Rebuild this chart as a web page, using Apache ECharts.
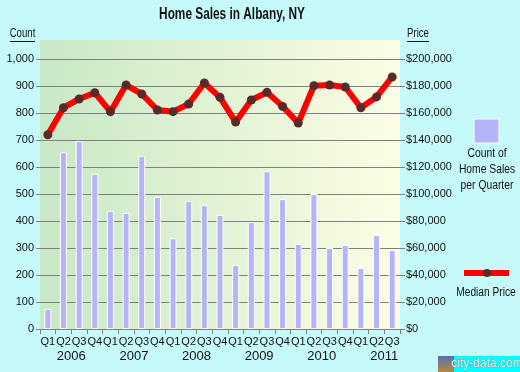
<!DOCTYPE html>
<html>
<head>
<meta charset="utf-8">
<script src="https://cdn.jsdelivr.net/npm/echarts@6/dist/echarts.min.js"></script>
<style>
html,body{margin:0;padding:0;background:#c6fafa;}
#chart{width:520px;height:372px;}
</style>
</head>
<body>
<div id="chart"></div>
<script>
var quarters = ['Q1','Q2','Q3','Q4','Q1','Q2','Q3','Q4','Q1','Q2','Q3','Q4','Q1','Q2','Q3','Q4','Q1','Q2','Q3','Q4','Q1','Q2','Q3'];
var years = ['2006','2007','2008','2009','2010','2011'];
var salesCount = [74, 655, 696, 574, 437, 430, 641, 489, 336, 474, 459, 422, 237, 396, 584, 481, 315, 500, 300, 311, 226, 348, 293];
var medianPrice = [143900, 163900, 170400, 175000, 161000, 180700, 174100, 162200, 161000, 166700, 182200, 171600, 153300, 169600, 175300, 164900, 152600, 180200, 180700, 179300, 163900, 171900, 186700];
var titleText = 'Home Sales in Albany, NY';
var legendCountLines = ['Count of', 'Home Sales', 'per Quarter'];
var legendPriceText = 'Median Price';

var FONT = '"Liberation Sans", Arial, sans-serif';
var TXT = '#111111';

function fmtNum(v){ return String(v).replace(/\B(?=(\d{3})+(?!\d))/g, ','); }

var chart = echarts.init(document.getElementById('chart'), null, {renderer:'canvas'});

function ctext(txt, x, y, font, sx){
  return {type:'text', x:x, y:y, scaleX:sx, style:{text:txt, font:font+' '+FONT, fill:TXT, align:'center', verticalAlign:'middle'}};
}

var graphics = [
  {type:'rect', z:-10, silent:true, shape:{x:40,y:40,width:360,height:289},
   style:{fill:new echarts.graphic.LinearGradient(0,0,1,0,[
     {offset:0,color:'#c8e8c6'},{offset:0.5,color:'#e2f3d4'},{offset:1,color:'#fcfde4'}])}},
  ctext(titleText, 232, 15, 'bold 16px', 0.74),
  ctext('Count', 22.5, 34, '12px', 0.8),
  {type:'rect', shape:{x:10,y:41,width:25,height:1}, style:{fill:TXT}},
  ctext('Price', 418, 34, '12px', 0.8),
  {type:'rect', shape:{x:407,y:41,width:22,height:1}, style:{fill:TXT}},
  // legend: count
  {type:'rect', shape:{x:474,y:119,width:25,height:24}, style:{fill:'#b4b4f8', stroke:'#ffffff', lineWidth:1}},
  ctext(legendCountLines[0], 487, 154, '12px', 0.86),
  ctext(legendCountLines[1], 487, 170, '12px', 0.86),
  ctext(legendCountLines[2], 487, 186, '12px', 0.86),
  // legend: price
  {type:'rect', shape:{x:464,y:270,width:45,height:6}, style:{fill:'#ff0000'}},
  {type:'circle', shape:{cx:487,cy:273,r:4}, style:{fill:'#5a2a2a'}},
  ctext(legendPriceText, 486, 293, '12px', 0.85),
  // watermark
  {type:'rect', shape:{x:438,y:356,width:16,height:16}, style:{fill:new echarts.graphic.LinearGradient(0,0,0,1,[
     {offset:0,color:'#5a6fb0'},{offset:1,color:'#b08a40'}])}},
  {type:'rect', shape:{x:454,y:356,width:66,height:16}, style:{fill:'#00ffff'}},
  {type:'text', x:487, y:364, style:{text:'city-data.com', font:'12px '+FONT, fill:'#e8e8e8', stroke:'#8a8a8a', lineWidth:0.6, align:'center', verticalAlign:'middle'}}
];

var option = {
  backgroundColor:'#c6fafa',
  animation:false,
  grid:{left:40, top:59, width:360, height:270, containLabel:false},
  xAxis:[
    {type:'category', data:quarters, boundaryGap:true,
     axisLine:{show:true, lineStyle:{color:'#808080', width:1}},
     axisTick:{show:true, interval:0, length:5, lineStyle:{color:'#808080'}},
     axisLabel:{interval:0, margin:7, fontSize:11, fontFamily:FONT, color:TXT},
     splitLine:{show:false}},
    {type:'value', min:0, max:23, interval:1, position:'bottom',
     axisLine:{show:false}, axisTick:{show:false}, splitLine:{show:false},
     axisLabel:{margin:21, fontSize:13, fontFamily:FONT, color:TXT, showMinLabel:true, showMaxLabel:true,
       formatter:function(v){ var i=(v-2)/4; if(Math.abs(i-Math.round(i))<1e-6 && years[Math.round(i)]) return years[Math.round(i)]; return ''; }}}
  ],
  yAxis:[
    {type:'value', min:0, max:1000, interval:100, position:'left',
     axisLine:{show:false},
     axisTick:{show:true, length:4, lineStyle:{color:'#808080'}},
     axisLabel:{margin:6, fontSize:11, fontFamily:FONT, color:TXT, formatter:function(v){return fmtNum(v);}},
     splitLine:{show:true, lineStyle:{color:'#808080', width:1.2}}},
    {type:'value', min:0, max:200000, interval:20000, position:'right',
     axisLine:{show:false},
     axisTick:{show:true, length:5, lineStyle:{color:'#808080'}},
     axisLabel:{margin:6, fontSize:11, fontFamily:FONT, color:TXT, formatter:function(v){return '$'+fmtNum(v);}},
     splitLine:{show:false}}
  ],
  series:[
    {name:'Count of Home Sales per Quarter', type:'bar', xAxisIndex:0, yAxisIndex:0, data:salesCount,
     barWidth:7, itemStyle:{color:'#b4b4f8', borderColor:'#ffffff', borderWidth:1}, z:2},
    {name:'Median Price', type:'line', xAxisIndex:0, yAxisIndex:1, data:medianPrice,
     symbol:'circle', symbolSize:9, lineStyle:{color:'#ff0000', width:6},
     itemStyle:{color:'#5a2a2a'}, z:3}
  ],
  graphic:graphics
};
chart.setOption(option);
</script>
</body>
</html>
